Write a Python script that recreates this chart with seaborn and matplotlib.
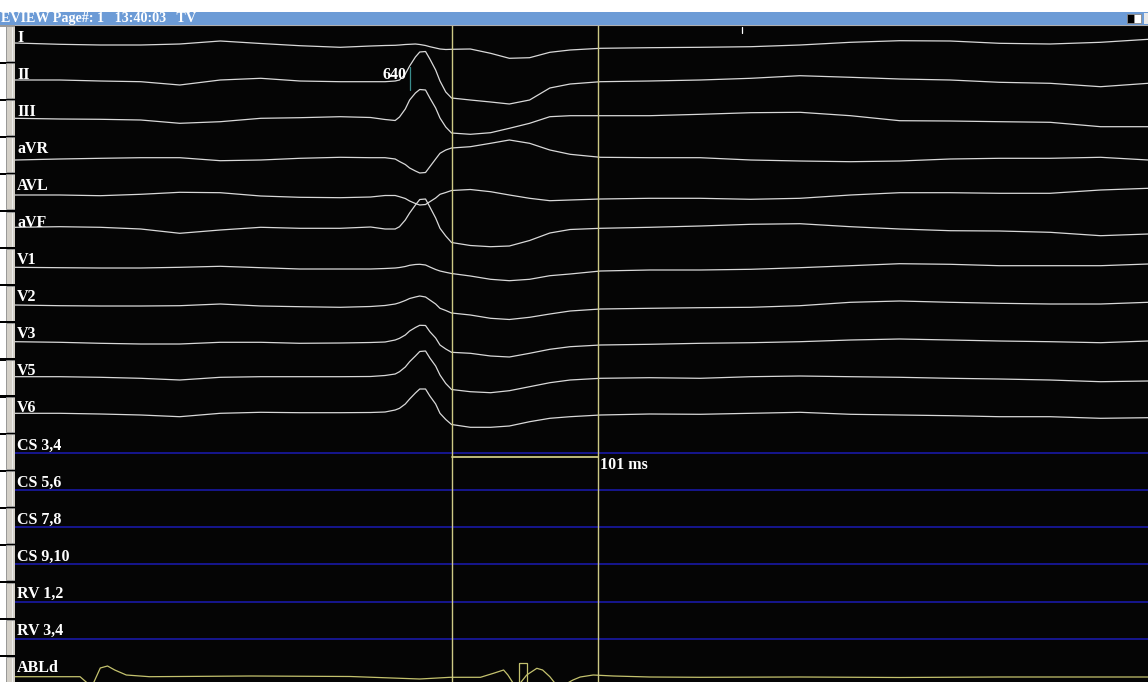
import matplotlib
matplotlib.use("Agg")
import numpy as np
import pandas as pd
import matplotlib.pyplot as plt
import seaborn as sns
from matplotlib.patches import Rectangle

# ---- data (time in ms, amplitudes in screen units, positive = up) ----
T_MS = [0, 31, 59, 87, 114, 142, 170, 197, 225, 246, 256, 263, 266, 270, 273, 277,
        280, 284, 287, 291, 294, 298, 302, 315, 329, 342, 356, 370, 384, 405, 439,
        474, 509, 543, 578, 612, 647, 681, 716, 751, 784]

ECG_LEADS = ["I", "II", "III", "aVR", "AVL", "aVF", "V1", "V2", "V3", "V5", "V6"]

amp_I = [2, 0.7, 0, 0, 1, 4, 1.5, -0.7, -2.3, -1, -0.5, -0.3, 0, 0.5, 0.7, 1, 0.5, -0.5,
         -1.7, -3, -4, -4.5, -4.3, -4, -8.3, -13.3, -12.7, -7.3, -5, -3.3, -2.7, -2.3,
         -1.7, 0, 2.7, 4.3, 4, 1.7, 1, 2.7, 5.7]
amp_II = [2.1, 2.1, 1.1, 0.4, -2.9, 2.1, 3.8, 1.1, 0.4, 0.4, 0.4, 1.1, 2.1, 8.1, 16.1,
          25.1, 30.1, 30.6, 23.1, 12.1, 1.1, -9.9, -15.9, -17.9, -19.9, -21.9, -17.9,
          -5.9, -1.9, 0.4, 1.1, 2.1, 3.8, 6.4, 4.8, 3.1, 2.1, -0.2, -1.2, -4.6, -1.2]
amp_III = [0.9, 0.2, -0.1, -0.8, -4.1, -2.5, 0.9, 1.5, 2.5, 1.7, -0.3, -1.3, 2.2, 10.2,
           19.2, 26.2, 29.7, 29.2, 21.2, 11.2, 1.2, -7.8, -13.8, -15.1, -13.5, -9.1,
           -4.1, 2.5, 3.5, 3.5, 3.5, 4.9, 6.5, 6.9, 3.5, -1.5, -1.8, -2.5, -3.1, -7.5, -7.5]
amp_aVR = [-3.7, -2.7, -2, -1.4, -1.4, -4.4, -3.7, -2, -1, -1.4, -1.4, -2.7, -5.2, -8.2,
           -11.7, -14.7, -16.7, -16.2, -10.4, -2.7, 3, 6.3, 8.3, 9.6, 13, 16.3, 13, 6.3,
           2, -1, -1.4, -1.4, -3.7, -4.7, -5.4, -4.7, -2.7, -2, -2, -1, -3.7]
amp_AVL = [-1.6, -1.6, -2.3, -0.9, 1.1, 0.7, -2.6, -3.9, -4.3, -3.6, -2.1, -2.1, -3.3,
           -5.1, -7.6, -10.1, -11.6, -11.1, -8.3, -4.6, -0.9, 0.9, 2.9, 3.9, 1.7, -1.6,
           -4.9, -7.3, -6.6, -5.6, -4.9, -4.9, -5.9, -4.9, -1.6, 0.7, 0.7, 0.1, 0.1, 3.4, 5.1]
amp_aVF = [3.2, 3.8, 3.2, 1.5, -2.8, 0.5, 3.2, 2.2, 2.2, 3.5, 1.5, 1.5, 3.8, 10.5, 17.5,
           25.5, 31, 31.5, 23.5, 12.5, 2.2, -5.5, -12, -15, -16.2, -15.5, -10, -2.5, 1,
           2.2, 3.2, 4.5, 6.2, 6.8, 3.8, 1.5, -0.2, -0.5, -1.8, -5.2, -3.5]
amp_V1 = [0.3, -0.1, -0.4, -0.4, 0.3, 1.3, -0.1, -1.4, -1.4, -1.4, -0.9, -0.4, 0.1, 1.1,
          2.3, 3.1, 3.3, 2.6, 0.6, -1.9, -3.4, -4.7, -5.9, -8.4, -11.7, -13.1, -11.7,
          -8.1, -6.4, -3.4, -2.4, -2.4, -1.7, -0.1, 1.9, 3.9, 3.3, 1.9, 1.9, 1.9, 3.6]
amp_V2 = [-0.3, -1, -1.3, -1.3, -1, 0.7, -1.3, -2, -2.6, -1.8, -0.8, 0.7, 2, 4.2, 6.2,
          7.7, 8.7, 7.7, 4.7, 0.7, -3.6, -5.8, -8.3, -10.3, -13.6, -14.8, -12.6, -9.3,
          -6.3, -4.3, -3.6, -3, -2.6, -1, 2.4, 3.7, 2.4, 1.4, 0.7, 0.7, 2.4]
amp_V3 = [0.1, -0.5, -1.5, -2.2, -2.2, -0.5, -0.5, -1.5, -1.2, -0.7, -0.2, 1.8, 3.5, 6.8,
          10.8, 14.3, 16.5, 16.3, 10.1, 3.8, -3.2, -7.2, -10.5, -11.5, -14.2, -15.2,
          -11.5, -7.5, -4.9, -3.2, -2.5, -1.5, -0.9, 0.1, 1.8, 2.8, 1.8, 0.8, 0.1, -0.9, 0.8]
amp_V5 = [2.2, 2.2, 1.6, 0.6, -1.1, 1.6, 2.2, 2.2, 2.2, 2.4, 3.4, 4.9, 7.2, 11.9, 17.2,
          22.9, 27.4, 27.9, 20.9, 12.9, 3.9, -4.6, -10.6, -12.8, -13.8, -11.8, -7.8,
          -3.8, -1.1, 0.6, 1.2, 0.6, 2.2, 2.9, 2.2, 1.6, 0.6, -0.1, -1.1, -2.8, -2.1]
amp_V6 = [2.7, 2.7, 2, 1, -0.7, 2.7, 3.7, 3.3, 3.3, 3.5, 4, 6, 7.7, 12, 17, 23, 27, 27,
          20, 12, 2.7, -3.5, -8.5, -11.3, -11.3, -10, -5.7, -2.3, -0.7, 1, 2, 1.7, 2.7,
          3.7, 1.7, 1, 0.3, -0.7, -0.7, -2.3, -1.7]
ECG_AMPS = [amp_I, amp_II, amp_III, amp_aVR, amp_AVL, amp_aVF, amp_V1, amp_V2, amp_V3,
            amp_V5, amp_V6]

FLAT_LEADS = ["CS 3,4", "CS 5,6", "CS 7,8", "CS 9,10", "RV 1,2", "RV 3,4"]

ABL_T = [0, 45, 50, 54, 59, 64, 69, 77, 93, 163, 232, 280, 301, 322, 331, 338, 341, 345,
         349, 354, 361, 365, 370, 374, 381, 386, 391, 400, 414, 439, 474, 543, 612, 681,
         751, 784]
ABL_AMP = [-1, -1, -7.3, -8.3, 7.7, 9.7, 5.7, 0.7, -1, -0.3, -0.8, -3.3, -1.6, -1.6, 2.4,
           5.7, 0.7, -8.3, -8.3, 0.7, 7.4, 5.7, -1, -8.3, -8.3, -4.3, -1.3, 0.7, -0.3,
           -1.3, -1.6, -1.3, -1.8, -1.3, -1.3, -1.3]
ABL_MARKER_T = [349, 354]
ABL_MARKER_AMP = [-9, 12.7]

CURSOR_T = [302, 403]
CYCLE_LEN = 640
CYCLE_MARK_T = 273
TOP_TICK_T = 503

# ---- layout (pixels of a 1148 x 682 screen) ----
W, H = 1148, 682
TOP = 25
STRIP = 15
FIRST_ROW = 45
ROW_GAP = 37.1
T_END = 783.8
LABEL_FS = 11.5

sns.set_style("dark")
plt.rcParams["font.family"] = ["Liberation Serif", "DejaVu Serif"]

fig = plt.figure(figsize=(W / 100, H / 100), dpi=100, facecolor="white")

# main black trace panel
ax = fig.add_axes([STRIP / W, 0, (W - STRIP) / W, (H - TOP) / H])
ax.set_facecolor("#050505")

all_leads = ECG_LEADS + FLAT_LEADS + ["ABLd"]
bases = {name: FIRST_ROW + k * ROW_GAP for k, name in enumerate(all_leads)}

rows = []
for name, amp in zip(ECG_LEADS, ECG_AMPS):
    for t, a in zip(T_MS, amp):
        rows.append((name, t, bases[name] - a))
df = pd.DataFrame(rows, columns=["lead", "t", "pos"])

sns.lineplot(data=df, x="t", y="pos", hue="lead", units="lead", estimator=None,
             palette={n: "#d9d9d9" for n in ECG_LEADS}, legend=False,
             linewidth=0.9, ax=ax)

abl = pd.DataFrame({"t": ABL_T, "pos": [bases["ABLd"] - a for a in ABL_AMP]})
sns.lineplot(data=abl, x="t", y="pos", color="#c4c26e", linewidth=0.9,
             estimator=None, ax=ax)
ax.add_patch(Rectangle((ABL_MARKER_T[0], bases["ABLd"] - ABL_MARKER_AMP[1]),
                       ABL_MARKER_T[1] - ABL_MARKER_T[0],
                       ABL_MARKER_AMP[1] - ABL_MARKER_AMP[0],
                       fill=False, edgecolor="#c4c26e", linewidth=0.9))

for name in FLAT_LEADS:
    ax.axhline(bases[name], color="#16168e", linewidth=1.4)

# cursors
cur_col = "#cdc985"
for t in CURSOR_T:
    ax.axvline(t, color=cur_col, linewidth=1.0)
hy = bases["CS 3,4"] + 4
ax.plot(CURSOR_T, [hy, hy], color=cur_col, linewidth=1.3)
ax.text(CURSOR_T[1] + 2, hy + 8, f"{CURSOR_T[1] - CURSOR_T[0]} ms", color="white",
        fontsize=LABEL_FS, fontweight="bold", va="center", ha="left")

# cycle length mark
ax.plot([CYCLE_MARK_T, CYCLE_MARK_T], [bases["II"] - 15, bases["II"] + 8],
        color="#3a8c8c", linewidth=0.9)
ax.text(CYCLE_MARK_T - 2, bases["II"] - 7, str(CYCLE_LEN), color="white",
        fontsize=LABEL_FS, fontweight="bold", va="center", ha="right")
ax.plot([TOP_TICK_T, TOP_TICK_T], [TOP + 2, TOP + 8], color="white", linewidth=0.9)

for name in all_leads:
    ax.text(1.4, bases[name] - 7.5, name, color="white", fontsize=LABEL_FS,
            fontweight="bold", va="center", ha="left")

ax.set_xlim(0, T_END)
ax.set_ylim(H, TOP)
ax.set(xlabel="", ylabel="", xticks=[], yticks=[])
ax.grid(False)
for side, sp in ax.spines.items():
    sp.set_visible(side == "top")
    sp.set_color("#b0b0b0")

# left button strip
sax = fig.add_axes([0, 0, STRIP / W, (H - TOP) / H])
sax.set_xlim(0, STRIP)
sax.set_ylim(H, TOP)
sax.set_facecolor("#ece9e2")
for name in all_leads:
    b = bases[name]
    sax.add_patch(Rectangle((6, b - 19), 9, 35, facecolor="#d4d0c8",
                            edgecolor="#8a8a8a", linewidth=0.6))
    sax.plot([12, 12], [b - 18, b + 15], color="#f4f4f4", linewidth=0.6)
    sax.add_patch(Rectangle((0, b + 16.5), STRIP, 2.2, facecolor="black",
                            edgecolor="none"))
sax.add_patch(Rectangle((0, TOP), STRIP, 2, facecolor="#9a9a9a", edgecolor="none"))
sax.axis("off")

# title bar
tax = fig.add_axes([0, (H - TOP) / H, 1, 13 / H])
tax.set_xlim(0, W)
tax.set_ylim(TOP, 12)
tax.set_facecolor("#6c9bd6")
tax.text(1, 18.5, "EVIEW Page#: 1   13:40:03   TV", color="white", fontsize=10.2,
         fontweight="bold", va="center", ha="left")
tax.add_patch(Rectangle((1127, 14), 7, 9, facecolor="black", edgecolor="#888888",
                        linewidth=0.6))
tax.add_patch(Rectangle((1134, 14), 7, 9, facecolor="white", edgecolor="#888888",
                        linewidth=0.6))
tax.add_patch(Rectangle((1144, 13), 4, 11, facecolor="#e8e8e8", edgecolor="none"))
tax.set(xticks=[], yticks=[])
for sp in tax.spines.values():
    sp.set_visible(False)

fig.savefig("out.png", dpi=100, facecolor="white")
